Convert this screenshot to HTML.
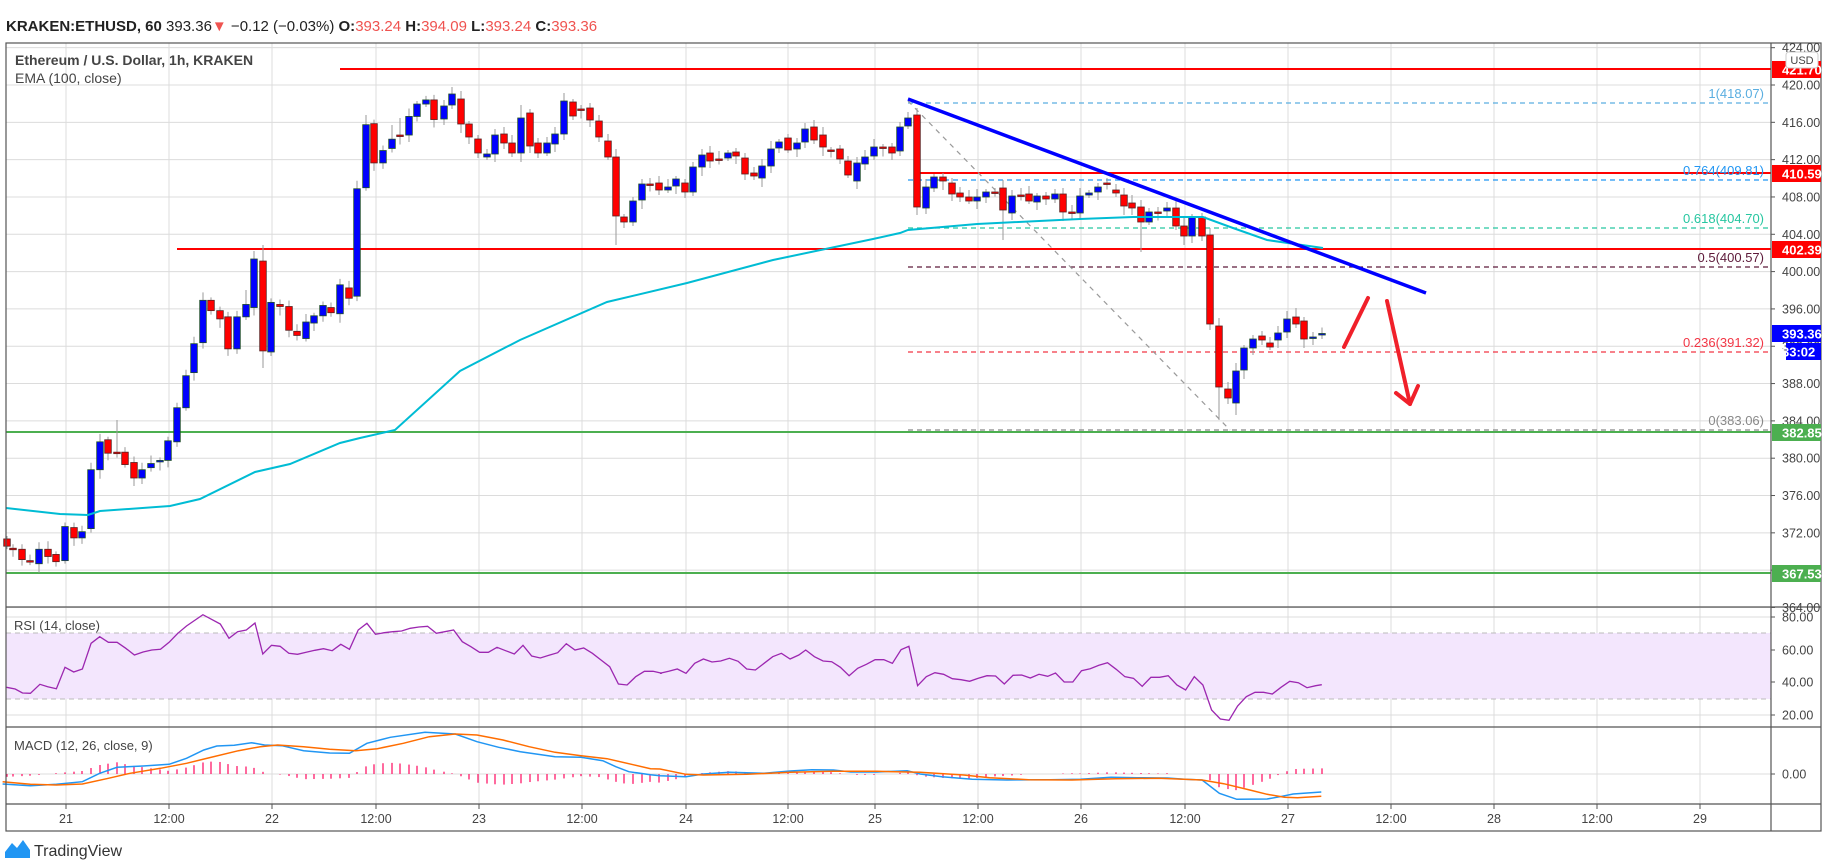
<!DOCTYPE html>
<html><head><meta charset="utf-8"><style>
html,body{margin:0;padding:0;background:#fff;}
svg{display:block;font-family:"Liberation Sans",sans-serif;}
</style></head><body>
<svg id="s" width="1828" height="868" viewBox="0 0 1828 868" xmlns="http://www.w3.org/2000/svg">
<rect width="1828" height="868" fill="#fff"/>
<g id="grid"></g>
<rect x="6" y="633" width="1765" height="66" fill="#f3e6fd"/>
<line x1="6" y1="633" x2="1771" y2="633" stroke="#bbb" stroke-dasharray="5,4"/>
<line x1="6" y1="699" x2="1771" y2="699" stroke="#bbb" stroke-dasharray="5,4"/>
<g id="hlines"></g>
<g id="cand"></g>
<g id="ind"></g>
<g id="draw"></g>
<g id="axis"></g>
<text x="6" y="31" font-size="15" fill="#222"><tspan font-weight="bold">KRAKEN:ETHUSD, 60</tspan> 393.36<tspan fill="#ef5350">▼</tspan> −0.12 (−0.03%) <tspan font-weight="bold">O:</tspan><tspan fill="#ef5350">393.24</tspan> <tspan font-weight="bold">H:</tspan><tspan fill="#ef5350">394.09</tspan> <tspan font-weight="bold">L:</tspan><tspan fill="#ef5350">393.24</tspan> <tspan font-weight="bold">C:</tspan><tspan fill="#ef5350">393.36</tspan></text>
<text x="15" y="65" font-size="14" font-weight="bold" fill="#444">Ethereum / U.S. Dollar, 1h, KRAKEN</text>
<text x="15" y="83" font-size="14" fill="#444">EMA (100, close)</text>
<text x="14" y="630" font-size="13" fill="#444">RSI (14, close)</text>
<text x="14" y="750" font-size="13" fill="#444">MACD (12, 26, close, 9)</text>
<g transform="translate(5,838)"><path d="M0 14 L7 5 L12 10 L18 2 L25 12 L25 20 L0 20Z" fill="#2196f3"/></g>
<text x="34" y="856" font-size="16" fill="#333">TradingView</text>
</svg>
<script>
const NS="http://www.w3.org/2000/svg";
function el(p,t,a,txt){const e=document.createElementNS(NS,t);for(const k in a)e.setAttribute(k,a[k]);if(txt!==undefined)e.textContent=txt;document.getElementById(p).appendChild(e);return e;}
const L=6,R=1771;
const py=p=>85+(420-p)*9.33;
// vertical grid + time labels
const gx=[66,169,272,376,479,582,686,788,875,978,1081,1185,1288,1391,1494,1597,1700];
const gl=["21","12:00","22","12:00","23","12:00","24","12:00","25","12:00","26","12:00","27","12:00","28","12:00","29"];
gx.forEach((x,i)=>{el("grid","line",{x1:x,y1:43,x2:x,y2:804,stroke:"#dcdcdc"});el("axis","line",{x1:x,y1:804,x2:x,y2:809,stroke:"#555"});el("axis","text",{x:x,y:823,"font-size":12.5,fill:"#444","text-anchor":"middle"},gl[i]);});
for(let p=364;p<=424;p+=4){const y=py(p);el("grid","line",{x1:L,y1:y,x2:R,y2:y,stroke:"#dcdcdc"});}
[617,650,682,715,774].forEach(y=>el("grid","line",{x1:L,y1:y,x2:R,y2:y,stroke:"#dcdcdc"}));
// frame
el("axis","rect",{x:6,y:43,width:1815,height:788,fill:"none",stroke:"#555","stroke-width":1.2});
el("axis","line",{x1:R,y1:43,x2:R,y2:831,stroke:"#555","stroke-width":1.2});
[607,727,804].forEach(y=>el("axis","line",{x1:6,y1:y,x2:1821,y2:y,stroke:"#555","stroke-width":1.2}));
// price labels
for(let p=364;p<=424;p+=4){const y=py(p);el("axis","line",{x1:R,y1:y,x2:R+4,y2:y,stroke:"#555"});el("axis","text",{x:1782,y:y+4.5,"font-size":12.5,fill:"#444"},p.toFixed(2));}
[[617,"80.00"],[650,"60.00"],[682,"40.00"],[715,"20.00"],[774,"0.00"]].forEach(([y,t])=>{el("axis","line",{x1:R,y1:y,x2:R+4,y2:y,stroke:"#555"});el("axis","text",{x:1782,y:y+4.5,"font-size":12.5,fill:"#444"},t);});
// horizontal S/R lines
function hl(x1,y,c){el("hlines","line",{x1:x1,y1:y,x2:R,y2:y,stroke:c,"stroke-width":2});}
hl(340,69,"#ff0000");hl(918,173,"#ff0000");hl(177,249,"#ff0000");hl(6,432,"#4caf50");hl(6,573,"#4caf50");
// fib
const fib=[[103,"#5aaee0","1(418.07)"],[180,"#2196f3","0.764(409.81)"],[228,"#26c6a0","0.618(404.70)"],[267,"#5d1a3a","0.5(400.57)"],[352,"#f23645","0.236(391.32)"],[430,"#888","0(383.06)"]];
fib.forEach(([y,c,t])=>{el("hlines","line",{x1:908,y1:y,x2:R,y2:y,stroke:c,"stroke-width":1.2,"stroke-dasharray":"5,4"});el("draw","text",{x:1764,y:y-5,"font-size":13,fill:c,"text-anchor":"end"},t);});
el("hlines","line",{x1:908,y1:101,x2:1230,y2:430,stroke:"#999","stroke-width":1.2,"stroke-dasharray":"5,5"});
// candles
const A=[[7,523,530],[13,532,532.5],[22,533,543],[30,544,544.5],[39,547,533],[48,533,540],[56,538,545],[65,544,511],[74,512,522],[82,522,516],[91,513,456],[100,456,429],[108,427,440],[117,439,439.5],[125,439,451],[134,449,464],[142,464,456],[151,454,450],[160,448,447],[168,447,428],[177,429,396],[186,396,365],[194,362,334],[203,333,292],[211,292,302],[220,302,310],[228,308,339],[237,339,308],[246,308,296],[254,299,252],[263,254,341],[271,342,294],[280,296,298],[289,298,321],[297,322,326],[306,329,313],[314,314,307],[323,307,297],[331,299,304],[340,305,277],[349,280,290],[357,288,184],[366,183,122],[374,121,159],[383,159,147],[392,145,136],[400,132,132.5],[409,132,114],[417,114,102],[426,102,98],[434,98,117]].map(([x,o,c])=>[x,40+(o-40)*1.033,40+(c-40)*1.033]);
const B=[[444,119,106],[452,105,94],[461,99,124],[469,124,137],[478,139,153],[487,157,154],[495,154,135],[504,134,143],[512,143,153],[521,153,118],[530,113,146],[538,143,153],[547,153,143],[555,144,134],[564,134,101],[573,102,116],[581,109,109.5],[590,108,120],[599,121,137],[608,141,157],[616,157,216],[624,217,222],[633,222,201],[642,200,184],[650,184,184.5],[659,183,190],[668,190,187],[676,186,179],[685,183,192],[693,192,167],[702,167,155],[710,153,161],[719,159,159.5],[728,158,153],[736,152,156],[745,158,174],[754,173,176],[762,178,166],[771,166,149],[779,148,142],[788,138,150],[797,149,143],[805,142,129],[814,127,140],[823,135,147],[831,150,150.5],[840,149,159],[848,161,175],[857,181,163],[865,164,157],[874,156,147],[883,147,147.5],[892,147,153],[900,151,127],[908,126,118]];
const C=[[917,115,207],[926,208,187],[934,188,177],[943,177,181],[952,183,194],[960,193,197],[969,197,201],[977,201,197],[986,197,192],[995,192,192.5],[1003,188,210],[1012,213,196],[1021,195,195.5],[1029,194,201],[1037,202,196],[1046,196,199],[1055,199,194],[1063,194,212],[1072,212,212.5],[1080,213,196],[1089,195,193],[1098,192,187],[1107,183,183.5],[1116,190,193],[1124,195,206],[1132,203,208],[1141,207,222],[1149,222,212],[1158,212,212.5],[1167,211,208],[1176,208,226],[1184,226,236],[1192,236,217],[1202,217,236],[1210,235,324],[1219,326,387],[1228,389,398],[1236,403,371],[1244,370,348],[1253,348,339],[1262,336,340],[1270,343,347],[1278,340,333],[1287,332,319],[1296,317,324],[1304,321,339],[1313,338,337],[1322,334,333.5]];
const all=A.concat(B,C);
const longW={263:[245,368],230:[300,345],246:[290,320],117:[420,445],366:[115,165],392:[125,150],400:[118,140],521:[105,160],616:[150,245],1219:[318,420],1236:[395,415],1210:[228,330],1003:[180,240],1141:[200,252],1296:[308,326],1287:[312,336]};
all.forEach(([x,o,c],i)=>{let top=Math.min(o,c),bot=Math.max(o,c);let wt=top-(3+(i*7)%6),wb=bot+(3+(i*5)%7);if(longW[x]){wt=Math.min(wt,longW[x][0]);wb=Math.max(wb,longW[x][1]);}
el("cand","line",{x1:x,y1:wt,x2:x,y2:wb,stroke:"#9a9a9a","stroke-width":1});
const up=c<o;el("cand","rect",{x:x-3.3,y:top,width:6.6,height:Math.max(bot-top,1.5),fill:up?"#0000ff":"#ff0000",stroke:up?"#1f4d2a":"#5a2020","stroke-width":0.8});});
// EMA
const ema=[[6,508],[60,514],[88,515],[100,511],[170,506],[200,499],[255,472],[290,464],[340,443],[360,438],[395,430],[460,371],[520,340],[607,302],[687,283],[773,260],[873,239],[900,233],[908,230],[977,224],[1080,219],[1133,217],[1203,217],[1233,228],[1267,240],[1323,248]];
el("ind","polyline",{points:ema.map(p=>p.join(",")).join(" "),fill:"none",stroke:"#00bcd4","stroke-width":2});
// RSI
const r7=[[15,262],[35,267],[52,279],[70,280],[92,253],[110,260],[130,266],[150,202],[170,216],[190,207],[210,130],[230,110],[250,127],[270,127],[290,145],[310,165],[330,156],[350,150],[370,148],[390,127],[410,100],[430,78],[468,44],[508,72],[528,115],[548,95],[568,90],[588,69],[606,162],[626,136],[646,139],[666,160],[686,163],[706,157],[726,151],[746,146],[766,152],[786,133],[806,148],[826,90],[846,70],[866,103],[886,98],[906,95],[926,93],[946,85],[966,81],[986,79],[1006,100],[1026,95],[1046,90],[1066,125],[1086,140],[1106,157],[1126,157],[1146,142],[1166,152],[1186,162],[1206,136],[1226,168],[1246,174],[1266,166],[1286,158],[1306,131],[1326,150],[1346,144],[1366,160],[1386,180],[1406,200],[1426,252],[1446,255],[1466,230],[1486,214],[1506,214],[1526,220]].map(([X,Y])=>[X/2.306,600+Y/3]);
const r8=[[0,220],[20,214],[40,207],[60,220],[80,190],[100,177],[120,186],[140,183],[160,175],[180,184],[200,207],[220,210],[240,190],[260,170],[280,160],[300,177],[320,165],[336,150],[356,170],[376,183],[396,185],[416,202],[436,227],[456,205],[476,193],[496,179],[516,179],[536,190],[556,149],[574,139],[594,257],[614,230],[634,218],[654,223],[674,236],[694,239],[714,244],[734,235],[754,227],[774,228],[794,252],[814,226],[834,225],[854,234],[874,223],[894,229],[912,219],[932,246],[952,246],[972,212],[992,206],[1012,196],[1032,188],[1052,208],[1072,230],[1092,235],[1112,259],[1132,232],[1152,232],[1172,227],[1192,255],[1212,270],[1232,230],[1252,255],[1272,330],[1292,357],[1312,361],[1332,318],[1352,290],[1372,277],[1392,277],[1412,282],[1432,262],[1452,244],[1472,248],[1492,263],[1512,257],[1526,254]].map(([X,Y])=>[660+X/2.306,600+Y/3]);
el("ind","polyline",{points:r7.concat(r8).map(p=>p[0].toFixed(1)+","+p[1].toFixed(1)).join(" "),fill:"none",stroke:"#9c27b0","stroke-width":1.3});
// MACD
const f7=a=>a.map(([X,Y])=>[X/2.306,600+Y/3]),f8=a=>a.map(([X,Y])=>[660+X/2.306,600+Y/3]);
const mb=f7([[6,552],[70,557],[130,553],[190,545],[230,520],[270,502],[330,498],[390,493],[430,475],[470,450],[500,438],[540,436],[580,428],[610,435],[650,437],[700,452],[760,459],[806,460],[846,430],[900,412],[980,397],[1050,402],[1100,425],[1150,442],[1200,455],[1280,470],[1340,472],[1390,482],[1420,500],[1450,515],[1500,524]]).concat(f8([[0,527],[60,530],[100,522],[160,517],[240,520],[300,513],[350,509],[400,510],[440,516],[500,516],[570,512],[600,522],[650,530],[720,538],[800,540],[900,539],[970,538],[1040,532],[1100,533],[1170,534],[1210,538],[1250,540],[1290,580],[1330,598],[1400,597],[1430,590],[1460,582],[1525,576]]));
const mo=f7([[6,545],[70,553],[130,555],[190,552],[250,535],[300,520],[370,505],[430,490],[480,474],[550,452],[600,440],[640,435],[700,440],[760,448],[820,452],[870,446],[930,430],[990,410],[1050,402],[1100,405],[1160,420],[1220,440],[1280,457],[1340,467],[1400,476],[1460,494],[1500,506]]).concat(f8([[0,507],[60,523],[100,525],[200,523],[300,517],[400,514],[500,514],[600,517],[700,525],[760,533],[850,539],[950,540],[1050,536],[1150,535],[1250,540],[1300,551],[1360,570],[1400,583],[1440,592],[1470,593],[1525,589]]));
function interp(a,x){for(let i=1;i<a.length;i++){if(a[i][0]>=x){const t=(x-a[i-1][0])/(a[i][0]-a[i-1][0]||1);return a[i-1][1]+t*(a[i][1]-a[i-1][1]);}}return a[a.length-1][1];}
all.forEach(([x])=>{const d=(interp(mo,x)-interp(mb,x))*1.3;if(Math.abs(d)<0.5)return;el("ind","line",{x1:x,y1:774,x2:x,y2:774-d,stroke:"#ff1a6a","stroke-width":1.3});});
el("ind","polyline",{points:mb.map(p=>p[0].toFixed(1)+","+p[1].toFixed(1)).join(" "),fill:"none",stroke:"#2196f3","stroke-width":1.5});
el("ind","polyline",{points:mo.map(p=>p[0].toFixed(1)+","+p[1].toFixed(1)).join(" "),fill:"none",stroke:"#ff6d00","stroke-width":1.5});
// trend line & arrows
el("draw","line",{x1:908,y1:99,x2:1426,y2:293,stroke:"#0000ff","stroke-width":3.5});
el("draw","line",{x1:1344,y1:347,x2:1368,y2:298,stroke:"#f0202a","stroke-width":4,"stroke-linecap":"round"});
el("draw","polyline",{points:"1387,301 1410,404",fill:"none",stroke:"#f0202a","stroke-width":4,"stroke-linecap":"round"});
el("draw","polyline",{points:"1396,393 1410,404 1418,386",fill:"none",stroke:"#f0202a","stroke-width":4,"stroke-linecap":"round","stroke-linejoin":"round"});
// axis boxes
function box(y1,h,c,t,x1){el("axis","rect",{x:x1||1772,y:y1,width:1821-(x1||1772),height:h,fill:c});el("axis","text",{x:1782,y:y1+h/2+5,"font-size":13,"font-weight":"bold",fill:"#fff"},t);}
box(61,17,"#ff0000","421.70");box(165,17,"#ff0000","410.59");box(241,17,"#ff0000","402.39");
box(325,17,"#0000ff","393.36");box(343,17,"#0000ff","33:02",1786);
box(424,17,"#4caf50","382.85");box(565,17,"#4caf50","367.53");
el("axis","rect",{x:1786,y:52,width:32,height:16,rx:3,fill:"#fff",stroke:"#ccc"});
el("axis","text",{x:1802,y:64,"font-size":11,fill:"#444","text-anchor":"middle"},"USD");
</script>
</body></html>
